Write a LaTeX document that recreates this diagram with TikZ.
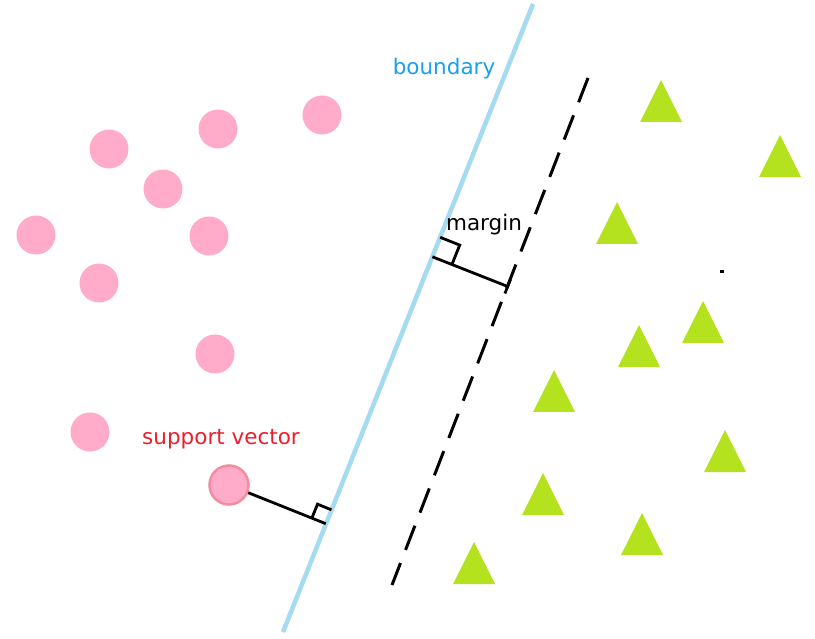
\documentclass[tikz,border=0pt]{standalone}
\usepackage{fontspec}
\setmainfont{DejaVu Sans}
\usepackage{tikz}
\usetikzlibrary{arrows.meta,calc,positioning}
\definecolor{dotpink}{RGB}{255,171,201}
\definecolor{svred}{RGB}{242,140,158}
\definecolor{trigreen}{RGB}{181,226,30}
\definecolor{lineblue}{RGB}{164,218,242}
\definecolor{textblue}{RGB}{25,160,230}
\definecolor{textred}{RGB}{235,30,45}

\begin{document}
\begin{tikzpicture}[x=1pt,y=-1pt,
    dot/.style={circle,fill=dotpink,minimum size=39pt,inner sep=0pt},
    lbl/.style={font=\fontsize{21.5}{25}\selectfont,inner sep=0pt}]
      \useasboundingbox (0,0) rectangle (815,639);
      % Pink class
      \node[dot] (c1) at (322,115) {};
      \node[dot] (c2) at (218,129) {};
      \node[dot] (c3) at (109,149) {};
      \node[dot] (c4) at (163,189) {};
      \node[dot] (c5) at (36,235) {};
      \node[dot] (c6) at (209,236) {};
      \node[dot] (c7) at (99,283) {};
      \node[dot] (c8) at (215,354) {};
      \node[dot] (c9) at (90,432) {};
      \node[dot,draw=svred,line width=2.5pt] (sv) at (229,485) {};
      % Green class
      \foreach \name/\x/\y in {t1/661/101, t2/780/156, t3/617/223, t4/703/322,
                               t5/639/346, t6/554/391, t7/725/451, t8/543/494,
                               t9/642/534, t10/474/563} {
        \coordinate (\name) at (\x,\y);
        \fill[trigreen] ($(\name)+(0,-21)$) -- ++(21,42) -- ++(-42,0) -- cycle;
      }
      % Boundary and shifted line
      \coordinate (b1) at (533,4);
      \coordinate (b2) at (283,632);
      \draw[lineblue,line width=4.5pt] (b1) -- (b2);
      \coordinate (d1) at (588,78);
      \coordinate (d2) at (392,585);
      \draw[line width=3pt,dash pattern=on 26pt off 14pt] (d1) -- (d2);
      % Margin
      \coordinate (mf) at (432.4,256.8);
      \coordinate (me) at (509,287);
      \draw[line width=2.8pt,-{Bar[width=15pt,line width=2.8pt]}] (mf) -- (me);
      \draw[line width=2.8pt] (mf) ++(7.8,-19.5) -- ++(19.5,7.8) -- ++(-7.8,19.5);
      % Support vector distance
      \coordinate (sf) at (325.8,523.7);
      \draw[line width=2.8pt] (sv) -- (sf);
      \draw[line width=2.8pt] (sf) ++(5.6,-13.9) -- ++(-13.9,-5.6) -- ++(-5.6,13.9);
      % Labels
      \node[lbl,text=textblue] (blabel) at (444,69) {boundary};
      \node[lbl] (mlabel) at (484,225) {margin};
      \node[lbl,text=textred] (svlabel) at (221,439) {support vector};
      \fill (720,270) rectangle (724,273);
\end{tikzpicture}
\end{document}
